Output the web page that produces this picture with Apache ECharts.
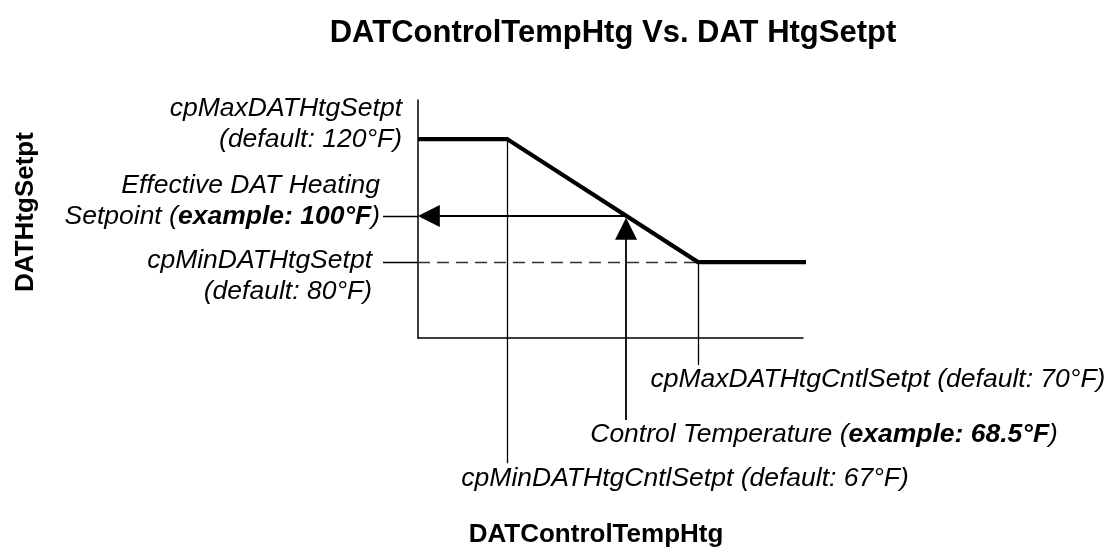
<!DOCTYPE html>
<html>
<head>
<meta charset="utf-8">
<title>DATControlTempHtg Vs. DAT HtgSetpt</title>
<script src="https://cdn.jsdelivr.net/npm/echarts@6.0.0/dist/echarts.min.js"></script>
<style>
  html, body { margin: 0; padding: 0; background: #fff; }
  #chart { width: 1115px; height: 550px; }
</style>
</head>
<body>
<div id="chart"></div>
<script>
// schematic curve, values in °F as they are drawn
const curveTemp = [65.6, 67, 70, 71.7];   // DATControlTempHtg
const curveSetpt = [120, 120, 80, 80];    // DATHtgSetpt

// break points named on the chart
const minCntlSetpt = 67;
const maxCntlSetpt = 70;
const maxHtgSetpt = 120;
const minHtgSetpt = 80;

// example point, where the arrows meet the ramp
const exampleTemp = 68.87;
const exampleSetpt = 95;

// axis ranges
const xRange = [65.6, 71.65];
const yRange = [55.3, 132.7];

// where the thin leader lines stop (data units)
const leaderLeft = 65.05;
const dropEnd67 = 14.6;
const dropEnd70 = 46.5;
const dropEndExample = 28.6;
const hArrowEnd = 65.77;
const vArrowEnd = 90.8;

const FONT = 'Liberation Sans';
const thin = { color: '#000', width: 1.3, type: 'solid', opacity: 1 };
const dashed = { color: '#333', width: 1.3, type: [12, 7], opacity: 1 };
const arrow = { color: '#000', width: 1.8, type: 'solid', opacity: 1 };

const seg = (a, b, style) => ({ coords: [a, b], lineStyle: style || thin });

const chart = echarts.init(document.getElementById('chart'));

const option = {
  animation: false,
  title: {
    text: 'DATControlTempHtg Vs. DAT HtgSetpt',
    left: 608,
    top: 13,
    textAlign: 'center',
    textStyle: { fontFamily: FONT, fontSize: 31, fontWeight: 'bold', color: '#000' }
  },
  grid: { left: 418, top: 100, width: 385, height: 238 },
  xAxis: {
    type: 'value', min: xRange[0], max: xRange[1],
    axisLine: { show: true, onZero: false, lineStyle: { color: '#000', width: 1.5 } },
    axisTick: { show: false }, axisLabel: { show: false }, splitLine: { show: false }
  },
  yAxis: {
    type: 'value', min: yRange[0], max: yRange[1],
    axisLine: { show: true, onZero: false, lineStyle: { color: '#000', width: 1.5 } },
    axisTick: { show: false }, axisLabel: { show: false }, splitLine: { show: false }
  },
  series: [
    {
      type: 'line',
      clip: false,
      silent: true,
      symbol: 'none',
      data: curveTemp.map((t, i) => [t, curveSetpt[i]]),
      lineStyle: { color: '#000', width: 4.2, join: 'miter' },
      z: 5
    },
    {
      // plain leaders, drops and the dashed guide
      type: 'lines',
      coordinateSystem: 'cartesian2d',
      clip: false,
      silent: true,
      symbol: 'none',
      lineStyle: thin,
      data: [
        seg([leaderLeft, exampleSetpt], [xRange[0], exampleSetpt]),
        seg([leaderLeft, minHtgSetpt], [xRange[0], minHtgSetpt]),
        seg([xRange[0], minHtgSetpt], [maxCntlSetpt, minHtgSetpt], dashed),
        seg([minCntlSetpt, maxHtgSetpt], [minCntlSetpt, dropEnd67]),
        seg([maxCntlSetpt, minHtgSetpt], [maxCntlSetpt, dropEnd70])
      ]
    },
    {
      // the two example arrows
      type: 'lines',
      coordinateSystem: 'cartesian2d',
      clip: false,
      silent: true,
      symbol: ['none', 'triangle'],
      symbolSize: [12, 22],
      lineStyle: arrow,
      itemStyle: { color: '#000', opacity: 1 },
      data: [
        seg([exampleTemp, exampleSetpt], [hArrowEnd, exampleSetpt], arrow),
        seg([exampleTemp, dropEndExample], [exampleTemp, vArrowEnd], arrow)
      ]
    }
  ]
};
chart.setOption(option);

const px = (x, y) => chart.convertToPixel({ gridIndex: 0 }, [x, y]);
const rich = {
  i: { fontFamily: FONT, fontSize: 26.5, fontStyle: 'italic', color: '#000', lineHeight: 31 },
  b: { fontFamily: FONT, fontSize: 26.5, fontStyle: 'italic', fontWeight: 'bold', color: '#000', lineHeight: 31 }
};
function label(p, dx, dy, text, align) {
  return {
    type: 'text', x: p[0] + dx, y: p[1] + dy, silent: true,
    style: { text: text, rich: rich, align: align, verticalAlign: 'middle' }
  };
}

const pMax = px(xRange[0], maxHtgSetpt);
const pEff = px(leaderLeft, exampleSetpt);
const pMin = px(leaderLeft, minHtgSetpt);
const p70 = px(maxCntlSetpt, dropEnd70);
const pEx = px(exampleTemp, dropEndExample);
const p67 = px(minCntlSetpt, dropEnd67);

chart.setOption({
  graphic: [
    label(pMax, -16, -15, '{i|cpMaxDATHtgSetpt}\n{i|(default: 120°F)}', 'right'),
    label(pEff, -3, -15, '{i|Effective DAT Heating}\n{i|Setpoint (}{b|example: 100°F}{i|)}', 'right'),
    label(pMin, -11, 14, '{i|cpMinDATHtgSetpt}\n{i|(default: 80°F)}', 'right'),
    label(p70, 180, 15, '{i|cpMaxDATHtgCntlSetpt (default: 70°F)}', 'center'),
    label(pEx, 198, 15, '{i|Control Temperature (}{b|example: 68.5°F}{i|)}', 'center'),
    label(p67, 178, 15, '{i|cpMinDATHtgCntlSetpt (default: 67°F)}', 'center'),
    {
      type: 'text', x: 596, y: 535, silent: true,
      style: { text: 'DATControlTempHtg', font: 'bold 26px "Liberation Sans"', fill: '#000',
               align: 'center', verticalAlign: 'middle' }
    },
    {
      type: 'text', x: 26, y: 212, rotation: Math.PI / 2, silent: true,
      style: { text: 'DATHtgSetpt', font: 'bold 26px "Liberation Sans"', fill: '#000',
               align: 'center', verticalAlign: 'middle' }
    }
  ]
});
</script>
</body>
</html>
